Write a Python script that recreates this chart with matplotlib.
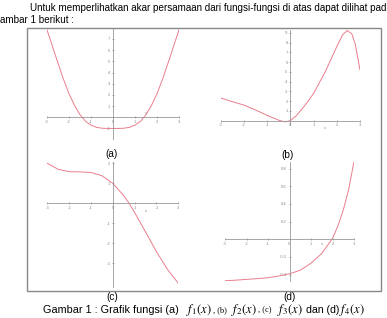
import matplotlib.pyplot as plt
from matplotlib.patches import Rectangle

# values
xa = [-3, -2.75, -2.5, -2.25, -2, -1.75, -1.5, -1.25, -1, -0.75, -0.5, -0.25, 0,
      0.25, 0.5, 0.75, 1, 1.25, 1.5, 1.75, 2, 2.25, 2.5, 2.75, 3]
ya = [7.9, 6.4, 4.9, 3.45, 2.15, 1.1, 0.25, -0.35, -0.7, -0.9, -0.98, -1.0, -1.0,
      -1.0, -0.98, -0.9, -0.7, -0.35, 0.25, 1.1, 2.15, 3.45, 4.9, 6.4, 7.9]

xb = [-3, -2.5, -2, -1.5, -1, -0.5, -0.25, 0, 0.25, 0.5, 0.75, 1, 1.25, 1.5,
      1.75, 2, 2.25, 2.45, 2.65, 2.8, 3]
yb = [2.33, 1.95, 1.6, 1.1, 0.55, 0.05, -0.12, 0.0, 0.5, 1.2, 1.95, 2.8, 3.9, 5.0,
      6.3, 7.6, 8.8, 9.25, 8.9, 7.8, 5.2]

xc = [-3, -2.5, -2, -1.5, -1, -0.5, 0, 0.5, 0.75, 1, 1.5, 2, 2.5, 3]
yc = [2.0, 1.7, 1.58, 1.57, 1.54, 1.38, 1.0, 0.38, 0.0, -0.46, -1.43, -2.42, -3.3, -4.0]

xd = [-3, -2.5, -2, -1.5, -1, -0.5, 0, 0.5, 1, 1.5, 2, 2.25, 2.5, 2.75, 3]
yd = [-0.468, -0.462, -0.453, -0.445, -0.434, -0.415, -0.39, -0.35, -0.27, -0.16,
      0.01, 0.15, 0.33, 0.56, 0.88]

W, H = 387, 318
fig = plt.figure(figsize=(W / 100, H / 100), dpi=100)
plt.rcParams['font.family'] = ['Liberation Sans', 'DejaVu Sans']
plt.rcParams['mathtext.fontset'] = 'stix'

def place(l, t, r, b):
    return fig.add_axes([l / W, 1 - b / H, (r - l) / W, (b - t) / H])

def maple_axes(ax, x, y, xlim, ylim, yticks, ylabels, xlab_y):
    ax.plot(x, y, color='#ea7d8c', lw=0.7)
    ax.set_xlim(xlim)
    ax.set_ylim(ylim)
    for s in ['top', 'right']:
        ax.spines[s].set_visible(False)
    for s in ['left', 'bottom']:
        ax.spines[s].set_position(('data', 0))
        ax.spines[s].set_color('#999999')
        ax.spines[s].set_linewidth(0.6)
    ax.set_xticks([-3, -2, -1, 0, 1, 2, 3])
    ax.set_xticklabels(['-3', '-2', '-1', '0', '1', '2', '3'])
    ax.set_yticks(yticks)
    ax.set_yticklabels(ylabels)
    ax.tick_params(labelsize=3, colors='#888888', length=2, width=0.5, direction='inout', pad=1)
    ax.patch.set_alpha(0)
    ax.text(1.5, xlab_y, 'x', fontsize=3, color='#888888', ha='center')

ax = place(46.7, 28.9, 179.3, 138.5)
maple_axes(ax, xa, ya, (-3, 3), (-1.9, 7.9), [-1, 1, 2, 3, 4, 5, 6, 7],
           ['-1', '1', '2', '3', '4', '5', '6', '7'], 0.3)

ax = place(220.7, 29.7, 360, 124.6)
maple_axes(ax, xb, yb, (-3, 3), (-0.4, 9.33), [1, 2, 3, 4, 5, 6, 7, 8, 9],
           ['1', '2', '3', '4', '5', '6', '7', '8', '9'], -0.9)

ax = place(47.3, 161.7, 178.3, 286.7)
maple_axes(ax, xc, yc, (-3, 3), (-4.17, 2.08), [-3, -2, -1, 1, 2],
           ['-3', '-2', '-1', '1', '2'], -0.45)

ax = place(225, 161.7, 354, 280.7)
maple_axes(ax, xd, yd, (-3, 3), (-0.468, 0.877), [-0.4, -0.2, 0.2, 0.4, 0.6, 0.8],
           ['-0.4', '-0.2', '0.2', '0.4', '0.6', '0.8'], -0.07)

# outer frame
fig.patches.append(Rectangle((27 / W, 1 - 291 / H), 354 / W, 263 / H, transform=fig.transFigure,
                             fill=False, edgecolor='#888888', lw=1))

fig.text(147 / W, 1 + 2 / H, '2', fontsize=6, va='center', ha='center')
fig.text(30 / W, 1 - 8 / H, 'Untuk memperlihatkan akar persamaan dari fungsi-fungsi di atas dapat dilihat pada',
         fontsize=7.1, va='center')
fig.text(0 / W, 1 - 20 / H, 'ambar 1 berikut :', fontsize=7.1, va='center')

for lab, px, py in [('(a)', 112, 154), ('(b)', 288, 155), ('(c)', 112, 297), ('(d)', 289, 297)]:
    fig.text(px / W, 1 - py / H, lab, fontsize=7.2, ha='center', va='center')

# caption, built from pieces: sans text, serif labels, serif italic function names
cap_y = 1 - 310 / H
serif = ['Liberation Serif', 'DejaVu Serif']
pieces = [
    (43, 'Gambar 1 : Grafik fungsi (a)', None, 7.8),
    (186, r'$f_1(x)$', None, 9),
    (213, ', (b)', serif, 6),
    (231, r'$f_2(x)$', None, 9),
    (258, ', (c)', serif, 6),
    (277, r'$f_3(x)$', None, 9),
    (306, 'dan (d)', None, 7.6),
    (339, r'$f_4(x)$', None, 9),
]
for px, s, fam, fs in pieces:
    kw = {'family': fam} if fam else {}
    fig.text(px / W, cap_y, s, fontsize=fs, va='center', **kw)

fig.savefig('out.png', dpi=100)
